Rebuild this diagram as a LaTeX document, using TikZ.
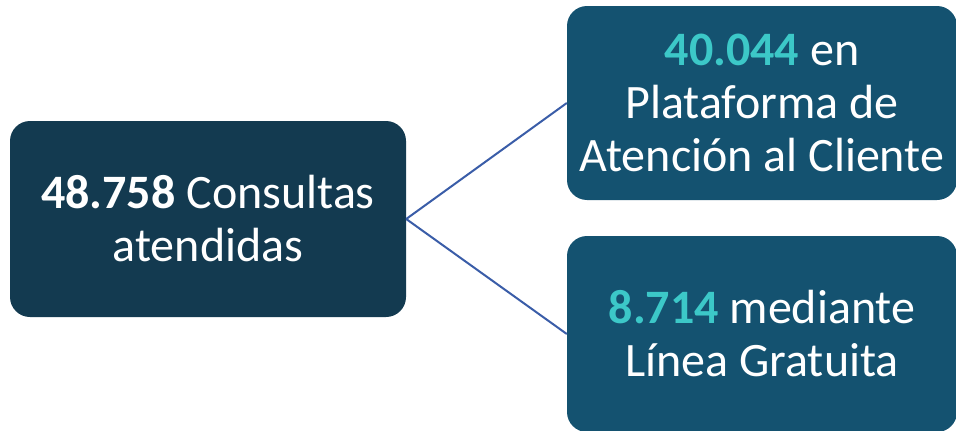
\documentclass[tikz,border=0pt]{standalone}
\usepackage{fontspec}
\setmainfont{Carlito}
\definecolor{boxdark}{HTML}{133A50}
\definecolor{boxblue}{HTML}{145270}
\definecolor{numcyan}{HTML}{3CC8C8}
\definecolor{linkblue}{HTML}{3A5DA8}
\tikzset{
  box/.style={rectangle, rounded corners=20pt, text=white, align=center,
    inner sep=0pt, font=\fontsize{48}{53}\selectfont},
  link/.style={linkblue, line width=2pt}
}
\newcommand{\num}[1]{\textbf{\textcolor{numcyan}{#1}}}
\begin{document}
\begin{tikzpicture}[x=1pt,y=-1pt]
		\useasboundingbox (0,0) rectangle (956,431);
		\node[box, fill=boxdark, minimum width=396pt, minimum height=196pt] (consultas) at (208,219) {\textbf{48.758} Consultas\\atendidas};
		\node[box, fill=boxblue, minimum width=390pt, minimum height=194pt] (plataforma) at (762,103) {\num{40.044} en\\Plataforma de\\Atención al Cliente};
		\node[box, fill=boxblue, minimum width=390pt, minimum height=196pt] (linea) at (762,334) {\num{8.714} mediante\\Línea Gratuita};

		\draw[link] (consultas.east) to (plataforma.west);
		\draw[link] (consultas.east) to (linea.west);
    \end{tikzpicture}
\end{document}
